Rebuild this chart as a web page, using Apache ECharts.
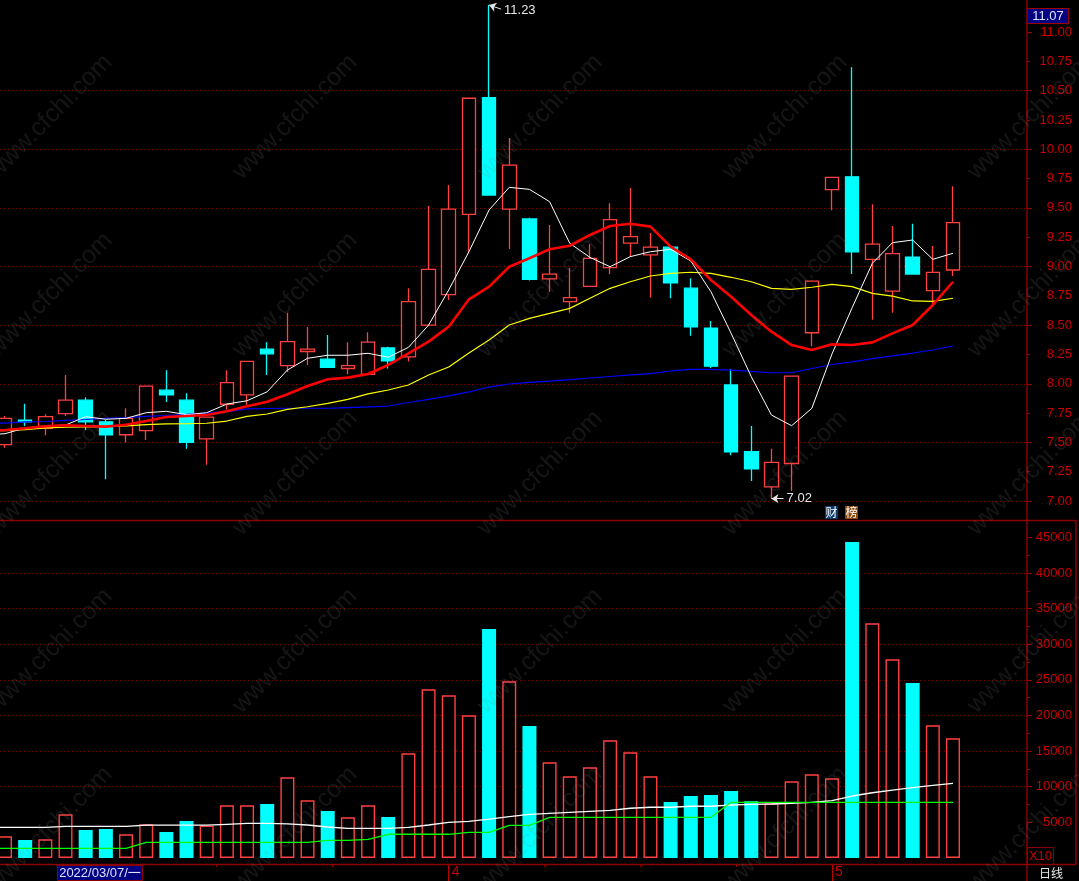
<!DOCTYPE html>
<html>
<head>
<meta charset="utf-8">
<style>
html, body { margin: 0; padding: 0; background: #000; }
#main { width: 1079px; height: 881px; }
</style>
<script src="https://cdn.jsdelivr.net/npm/echarts@6/dist/echarts.min.js"></script>
</head>
<body>
<div id="main"></div>
<script>
// 每根K线 [开, 收, 低, 高]
const candles = [
    [7.48, 7.705, 7.455, 7.725], [7.69, 7.675, 7.64, 7.83], [7.62, 7.72, 7.56, 7.74], [7.745, 7.86, 7.725, 8.075],
    [7.86, 7.675, 7.605, 7.885], [7.675, 7.565, 7.185, 7.69], [7.565, 7.705, 7.50, 7.79], [7.60, 7.98, 7.52, 7.98],
    [7.945, 7.905, 7.845, 8.115], [7.86, 7.50, 7.445, 7.92], [7.53, 7.715, 7.31, 7.715], [7.825, 8.01, 7.78, 8.115],
    [7.905, 8.19, 7.82, 8.19], [8.295, 8.255, 8.075, 8.355], [8.155, 8.36, 8.10, 8.605], [8.275, 8.295, 8.16, 8.485],
    [8.21, 8.14, 8.14, 8.415], [8.13, 8.155, 8.08, 8.355], [8.08, 8.355, 8.08, 8.44], [8.305, 8.195, 8.13, 8.315],
    [8.23, 8.70, 8.19, 8.815], [8.50, 8.975, 8.49, 9.515], [8.76, 9.49, 8.715, 9.695], [9.445, 10.435, 9.11, 10.435],
    [10.44, 9.61, 9.61, 11.23], [9.49, 9.865, 9.15, 10.095], [9.405, 8.89, 8.88, 9.415], [8.895, 8.935, 8.785, 9.355],
    [8.70, 8.735, 8.605, 8.99], [8.83, 9.07, 8.83, 9.19], [8.99, 9.40, 8.935, 9.54], [9.20, 9.255, 9.08, 9.67],
    [9.10, 9.165, 8.735, 9.285], [9.165, 8.86, 8.73, 9.17], [8.815, 8.485, 8.41, 8.90], [8.475, 8.15, 8.135, 8.535],
    [7.99, 7.42, 7.39, 8.125], [7.42, 7.275, 7.17, 7.64], [7.12, 7.33, 7.02, 7.445], [7.32, 8.065, 7.085, 8.065],
    [8.435, 8.875, 8.32, 8.875], [9.655, 9.76, 9.48, 9.76], [9.765, 9.125, 8.935, 10.70], [9.06, 9.19, 8.545, 9.53],
    [8.79, 9.11, 8.605, 9.345], [9.08, 8.935, 8.935, 9.365], [8.795, 8.95, 8.67, 9.175], [8.97, 9.375, 8.92, 9.685],
];
// 均线第一个点在画面左边之外(序号-1)
const ma5 = [
    7.563, 7.574, 7.623, 7.64, 7.648, 7.719, 7.697, 7.705, 7.753, 7.765, 7.736, 7.753, 7.827, 7.855, 7.932, 8.117, 8.217,
    8.243, 8.243, 8.26, 8.226, 8.31, 8.50, 8.80, 9.126, 9.482, 9.675, 9.658, 9.553, 9.198, 9.078, 8.998, 9.084,
    9.126, 9.147, 9.047, 8.785, 8.43, 8.06, 7.733, 7.642, 7.79, 8.254, 8.649, 9.027, 9.203, 9.226, 9.061, 9.113,
];
const ma10 = [
    7.597, 7.606, 7.62, 7.637, 7.646, 7.64, 7.634, 7.651, 7.682, 7.716, 7.725, 7.733, 7.765, 7.808, 7.847, 7.91, 7.981,
    8.038, 8.052, 8.083, 8.16, 8.26, 8.359, 8.487, 8.72, 8.828, 8.998, 9.07, 9.147, 9.177, 9.269, 9.345, 9.365,
    9.34, 9.169, 9.061, 8.885, 8.742, 8.586, 8.444, 8.33, 8.288, 8.336, 8.33, 8.353, 8.43, 8.501, 8.672, 8.87,
];
const ma20 = [
    7.597, 7.60, 7.608, 7.623, 7.629, 7.631, 7.634, 7.64, 7.651, 7.657, 7.659, 7.663, 7.682, 7.722, 7.742, 7.782, 7.804,
    7.833, 7.867, 7.913, 7.947, 7.989, 8.075, 8.143, 8.262, 8.373, 8.501, 8.558, 8.60, 8.643, 8.729, 8.814, 8.87,
    8.919, 8.942, 8.951, 8.942, 8.908, 8.87, 8.814, 8.805, 8.823, 8.848, 8.828, 8.771, 8.748, 8.706, 8.703, 8.729,
];
const ma60 = [
    7.661, 7.665, 7.674, 7.678, 7.687, 7.695, 7.704, 7.712, 7.721, 7.729, 7.738, 7.751, 7.763, 7.785, 7.789, 7.791, 7.791,
    7.791, 7.797, 7.802, 7.81, 7.84, 7.866, 7.896, 7.93, 7.972, 7.998, 8.011, 8.023, 8.036, 8.049, 8.062, 8.075,
    8.087, 8.109, 8.122, 8.122, 8.117, 8.105, 8.094, 8.094, 8.13, 8.164, 8.186, 8.215, 8.237, 8.262, 8.288, 8.322,
];
const volumes = [
    3050, 2530, 2630, 6130, 3930, 4070, 3330, 4730, 3650, 5190, 4530, 7400, 7400, 7580, 11330, 8100,
    6600, 5710, 7400, 5750, 14700, 23680, 22840, 20030, 32140, 24800, 18530, 13430, 11470, 12730, 16520, 14840,
    11470, 7860, 8700, 8840, 9400, 7960, 7680, 10770, 11750, 11190, 44350, 32940, 27890, 24560, 18630, 16800,
];
const volMaWhite = [
    4300, 4300, 4300, 4300, 4450, 4450, 4450, 4450, 4600, 4600, 4600, 4600, 4730, 4870, 4870, 4780, 4630,
    4350, 4170, 4170, 4170, 4310, 4630, 5010, 5150, 5470, 5800, 6130, 6270, 6410, 6550, 6690, 6980,
    7120, 7120, 7260, 7260, 7440, 7540, 7580, 7680, 7820, 8040, 8700, 9160, 9540, 9870, 10200, 10480,
];
const volMaGreen = [
    1360, 1360, 1360, 1360, 1360, 1360, 1360, 1360, 2200, 2200, 2200, 2200, 2200, 2200, 2200, 2200, 2200,
    2480, 2480, 2620, 3330, 3330, 3330, 3330, 3610, 3610, 4590, 4590, 5710, 5710, 5710, 5710, 5710,
    5710, 5710, 5710, 5710, 7820, 7820, 7820, 7820, 7820, 7820, 7820, 7820, 7820, 7820, 7820, 7820,
];
const priceLabels = [7, 7.25, 7.5, 7.75, 8, 8.25, 8.5, 8.75, 9, 9.25, 9.5, 9.75, 10, 10.25, 10.5, 10.75, 11];
const priceGridTicks = [7, 7.5, 8, 8.5, 9, 9.5, 10, 10.5, 11];
const volTicks = [5000, 10000, 15000, 20000, 25000, 30000, 35000, 40000, 45000];
const volSmallTicks = [7500, 12500, 17500, 22500, 27500, 32500, 37500, 42500];
const monthTicks = [22, 41];
const monthLabels = ["4", "5"];
const smallDateTicks = [10.46, 16.2, 26.72, 31.48, 36.24];
const highIndex = 24, highPrice = 11.23;
const lowIndex = 38, lowPrice = 7.02;

const RED = "#ff4040", CYAN = "#00ffff", AXIS = "#c80000", FRAME = "#8c0000", GRIDDOT = "#7c0000";
const FONT = "Liberation Sans";

let chart = echarts.init(document.getElementById("main"), null, { renderer: "canvas" });

function maLine(name, arr, color, width, xIdx, yIdx, z) {
    return {
        name: name,
        type: "line",
        xAxisIndex: xIdx,
        yAxisIndex: yIdx,
        data: arr.map(function (v, k) { return [k - 1, v]; }),
        symbol: "none",
        lineStyle: { color: color, width: width },
        z: z,
        silent: true,
    };
}

// 水印铺满全图
let watermark = [];
for (let col = 0; col < 5; col++) {
    for (let row = 0; row < 5; row++) {
        watermark.push({
            type: "text",
            x: 50 + col * 245,
            y: 117 + row * 178,
            rotation: Math.PI / 4,
            silent: true,
            z: 100,
            style: {
                text: "www.cfchi.com",
                font: '25px "Liberation Sans"',
                fill: "rgba(128,128,128,0.16)",
                align: "center",
                verticalAlign: "middle",
            },
        });
    }
}

function frameLine(x1, y1, x2, y2, w) {
    return {
        type: "line",
        silent: true,
        z: 50,
        shape: { x1: x1, y1: y1, x2: x2, y2: y2 },
        style: { stroke: FRAME, lineWidth: w || 1 },
    };
}

function textBox(x, y, w, h, fill, text, color, font, border) {
    return {
        type: "group",
        silent: true,
        z: 60,
        children: [
            { type: "rect", shape: { x: x, y: y, width: w, height: h }, style: { fill: fill, stroke: border || null, lineWidth: 1 } },
            {
                type: "text",
                x: x + w / 2,
                y: y + h / 2,
                style: { text: text, fill: color, font: font, align: "center", verticalAlign: "middle" },
            },
        ],
    };
}

chart.setOption({
    animation: false,
    backgroundColor: "#000",
    grid: [
        { left: 0, right: 52, top: 2.69, bottom: 380 },
        { left: 0, right: 52, top: 519.56, bottom: 23 },
    ],
    xAxis: [
        { type: "value", gridIndex: 0, min: -0.248, max: 50.669, show: false, splitLine: { show: false }, axisLine: { onZero: false } },
        {
            type: "value",
            gridIndex: 1,
            position: "bottom",
            min: -0.248,
            max: 50.669,
            offset: 6,
            axisLine: { show: false, onZero: false },
            splitLine: { show: false },
            axisTick: { show: true, length: 17, customValues: monthTicks, lineStyle: { color: "#c00000" } },
            axisLabel: {
                show: true,
                customValues: monthTicks,
                align: "left",
                margin: 1,
                color: AXIS,
                fontFamily: FONT,
                fontSize: 14,
                padding: [0, 0, 0, 3],
                formatter: function (v) { return monthLabels[monthTicks.indexOf(v)]; },
            },
        },
        {
            type: "value",
            gridIndex: 1,
            position: "bottom",
            min: -0.248,
            max: 50.669,
            offset: 6,
            axisLine: { show: false, onZero: false },
            splitLine: { show: false },
            axisLabel: { show: false },
            axisTick: { show: true, length: 3, customValues: smallDateTicks, lineStyle: { color: "#a00000" } },
        },
    ],
    yAxis: [
        {
            type: "value",
            gridIndex: 0,
            position: "right",
            min: 7,
            max: 11.25,
            interval: 0.25,
            axisLine: { show: false, onZero: false },
            splitLine: { show: false },
            axisTick: { show: true, length: 3, customValues: priceLabels, lineStyle: { color: "#a00000" } },
            axisLabel: {
                customValues: priceLabels,
                align: "right",
                margin: 45,
                color: AXIS,
                fontFamily: FONT,
                fontSize: 13,
                formatter: function (v) { return v.toFixed(2); },
            },
        },
        {
            type: "value",
            gridIndex: 0,
            position: "right",
            min: 7,
            max: 11.25,
            interval: 0.5,
            axisLine: { show: false, onZero: false },
            axisLabel: { show: false },
            axisTick: { show: true, length: 5, customValues: priceGridTicks, lineStyle: { color: "#a00000" } },
            splitLine: {
                show: true,
                showMinLine: true,
                showMaxLine: false,
                lineStyle: { color: GRIDDOT, type: [1, 3], width: 1 },
            },
        },
        {
            type: "value",
            gridIndex: 1,
            position: "right",
            min: 0,
            max: 47500,
            interval: 5000,
            axisLine: { show: false, onZero: false },
            axisTick: { show: true, length: 5, customValues: volTicks, lineStyle: { color: "#a00000" } },
            splitLine: {
                show: true,
                showMinLine: false,
                showMaxLine: false,
                lineStyle: { color: GRIDDOT, type: [1, 3], width: 1 },
            },
            axisLabel: {
                customValues: volTicks,
                align: "right",
                margin: 45,
                color: AXIS,
                fontFamily: FONT,
                fontSize: 13,
                formatter: function (v) { return String(v); },
            },
        },
        {
            // 量区的小刻度
            type: "value",
            gridIndex: 1,
            position: "right",
            min: 0,
            max: 47500,
            interval: 5000,
            axisLine: { show: false, onZero: false },
            axisLabel: { show: false },
            splitLine: { show: false },
            axisTick: { show: true, length: 3, customValues: volSmallTicks, lineStyle: { color: "#a00000" } },
        },
    ],
    series: [
        {
            name: "K线",
            type: "candlestick",
            xAxisIndex: 0,
            yAxisIndex: 0,
            barWidth: 14,
            z: 2,
            silent: true,
            itemStyle: {
                color: "#000",
                color0: CYAN,
                borderColor: RED,
                borderColor0: CYAN,
                borderWidth: 1.3,
            },
            data: candles.map(function (c, i) { return [i, c[0], c[1], c[2], c[3]]; }),
            markLine: {
                silent: true,
                animation: false,
                symbol: ["arrow", "none"],
                symbolSize: 7,
                precision: 3,
                lineStyle: { color: "#e6e6e6", width: 1, type: "solid" },
                label: {
                    show: true,
                    position: "end",
                    distance: 3,
                    color: "#e6e6e6",
                    fontFamily: FONT,
                    fontSize: 13,
                },
                data: [
                    [
                        { coord: [highIndex, highPrice] },
                        { coord: [highIndex + 0.6, highPrice - 0.035], label: { formatter: highPrice.toFixed(2) } },
                    ],
                    [
                        { coord: [lowIndex, lowPrice] },
                        { coord: [lowIndex + 0.6, lowPrice], label: { formatter: lowPrice.toFixed(2) } },
                    ],
                ],
            },
        },
        maLine("MA60", ma60, "#0000ff", 1.2, 0, 0, 3),
        maLine("MA20", ma20, "#ffff00", 1.2, 0, 0, 4),
        maLine("MA5", ma5, "#ffffff", 1, 0, 0, 5),
        maLine("MA10", ma10, "#ff0000", 2.6, 0, 0, 6),
        {
            name: "成交量",
            type: "bar",
            xAxisIndex: 1,
            yAxisIndex: 2,
            barWidth: 14,
            z: 2,
            silent: true,
            data: volumes.map(function (v, i) {
                let up = candles[i][1] >= candles[i][0];
                return {
                    value: [i, v],
                    itemStyle: {
                        color: up ? "#000" : CYAN,
                        borderColor: up ? RED : CYAN,
                        borderWidth: 1.4,
                    },
                };
            }),
        },
        maLine("量均线1", volMaWhite, "#ffffff", 1.3, 1, 2, 5),
        maLine("量均线2", volMaGreen, "#00ff00", 1.3, 1, 2, 6),
    ],
    graphic: watermark.concat([
        frameLine(0, 520.5, 1076, 520.5, 1.5),
        frameLine(0, 864.5, 1076, 864.5, 1.5),
        frameLine(1027, 0, 1027, 881, 1.5),
        frameLine(1076, 520, 1076, 865, 1.5),
        textBox(1027.5, 8.5, 41, 15, "#000080", "11.07", "#e0e0ff", '13px "Liberation Sans"', "#a00000"),
        textBox(1027.5, 847.5, 26, 17, "#000", "X10", AXIS, '13px "Liberation Sans"', "#8c0000"),
        textBox(57.5, 865.5, 85, 15, "#000080", "2022/03/07/一", "#e0e0ff", '13px "Liberation Sans", "Noto Sans CJK SC"', "#8c0000"),
        textBox(825, 506, 13, 13, "#0b3a6e", "财", "#ffffff", '12px "Noto Sans CJK SC"'),
        textBox(845, 506, 13, 13, "#8a4a0c", "榜", "#ffffff", '12px "Noto Sans CJK SC"'),
        {
            type: "text",
            x: 1051,
            y: 873,
            silent: true,
            z: 60,
            style: { text: "日线", fill: "#e8e8e8", font: '12px "Noto Sans CJK SC"', align: "center", verticalAlign: "middle" },
        },
    ]),
});
</script>
</body>
</html>
